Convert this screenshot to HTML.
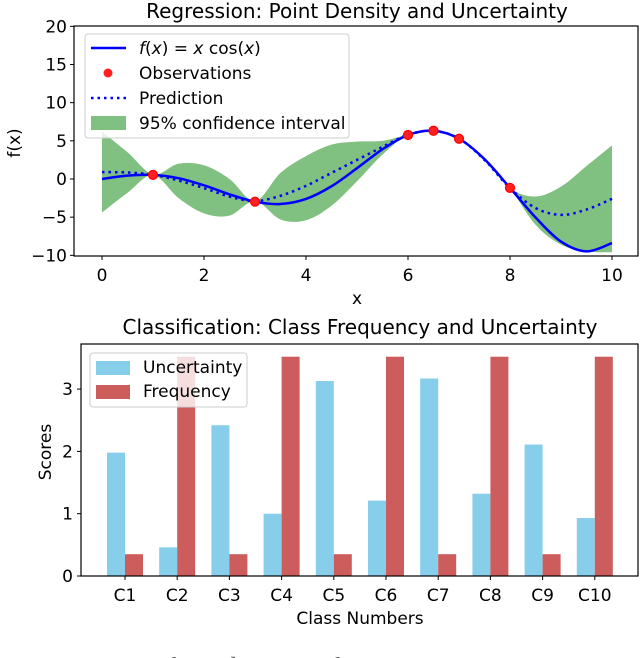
<!DOCTYPE html>
<html><head><meta charset="utf-8">
<style>
html,body{margin:0;padding:0;background:#fff;width:640px;height:658px;overflow:hidden}
svg{display:block;font-family:"DejaVu Sans","Liberation Sans",sans-serif}
</style></head>
<body>
<svg id="fig" width="640" height="658" viewBox="0 0 640 658">
  <g id="topchart"></g>
  <g id="botchart"></g>
  <text x="0" y="674" font-family="Liberation Serif,serif" font-size="24" fill="#555">Figure 1: Types of one-dimensional Gaussian</text>
</svg>
<script>
// ---- Regression data ----
const gridX = [0,0.5,1,1.5,2,2.5,3,3.5,4,4.5,5,5.5,6,6.5,7,7.5,8,8.5,9,9.5,10];
const trueY = [0,0.439,0.540,0.106,-0.832,-2.003,-2.970,-3.278,-2.615,-0.950,1.418,3.897,5.761,6.318,5.277,2.593,-1.164,-5.034,-8.200,-9.483,-8.391];
const predY = [0.9,0.85,0.55,-0.2,-1.2,-2.3,-2.9,-2.2,-0.9,0.8,2.5,4.2,5.8,6.3,5.3,2.5,-1.2,-3.8,-4.7,-4.0,-2.6];
const upperY = [6.2,3.5,0.6,2.0,1.8,0.0,-2.9,0.8,3.0,4.5,4.9,5.0,5.8,6.3,5.3,2.5,-1.2,-2.3,-1.0,1.7,4.4];
const lowerY = [-4.4,-1.8,0.5,-2.5,-4.5,-4.8,-2.9,-5.3,-5.4,-3.5,-0.3,3.2,5.8,6.3,5.3,2.5,-1.2,-6.0,-8.6,-9.5,-9.6];
const obsX = [1,3,6,6.5,7,8];
const obsY = [0.540,-2.970,5.761,6.318,5.277,-1.164];
const topXTicks = [0,2,4,6,8,10];
const topYTicks = [20,15,10,5,0,-5,-10];

// ---- Classification data ----
const classes = ["C1","C2","C3","C4","C5","C6","C7","C8","C9","C10"];
const uncertainty = [1.98,0.46,2.42,1.0,3.13,1.21,3.17,1.32,2.11,0.93];
const frequency = [0.35,3.52,0.35,3.52,0.35,3.52,0.35,3.52,0.35,3.52];
const botYTicks = [0,1,2,3];

const NS="http://www.w3.org/2000/svg";
function mk(parent,tag,attrs,text){const e=document.createElementNS(NS,tag);for(const k in attrs)e.setAttribute(k,attrs[k]);if(text!==undefined)e.textContent=text;parent.appendChild(e);return e;}

const tx=v=>102+v*51, ty=v=>179-v*7.633;
function smooth(xs,ys){let d="M"+tx(xs[0]).toFixed(2)+","+ty(ys[0]).toFixed(2);
 for(let i=0;i<xs.length-1;i++){const p0=[tx(xs[Math.max(i-1,0)]),ty(ys[Math.max(i-1,0)])],p1=[tx(xs[i]),ty(ys[i])],p2=[tx(xs[i+1]),ty(ys[i+1])],p3=[tx(xs[Math.min(i+2,xs.length-1)]),ty(ys[Math.min(i+2,xs.length-1)])];
 const c1=[p1[0]+(p2[0]-p0[0])/6,p1[1]+(p2[1]-p0[1])/6],c2=[p2[0]-(p3[0]-p1[0])/6,p2[1]-(p3[1]-p1[1])/6];
 d+=` C${c1[0].toFixed(2)},${c1[1].toFixed(2)} ${c2[0].toFixed(2)},${c2[1].toFixed(2)} ${p2[0].toFixed(2)},${p2[1].toFixed(2)}`;}return d;}
const topG=document.getElementById('topchart');
let bd=smooth(gridX,upperY);
const rx=gridX.slice().reverse(), rl=lowerY.slice().reverse();
bd+=" L"+smooth(rx,rl).slice(1)+" Z";
let el=mk(topG,'path',{d:bd,fill:'#80c080',stroke:'none'});


el=mk(topG,'path',{d:smooth(gridX,trueY),fill:'none',stroke:'#0000ff','stroke-width':2.5});


el=mk(topG,'path',{d:smooth(gridX,predY),fill:'none',stroke:'#0000ff','stroke-width':2.5,'stroke-dasharray':'2.5,4'});


obsX.forEach((x,i)=>{const c=mk(topG,'circle',{cx:tx(x),cy:ty(obsY[i]),r:4.5,fill:'#ff2020',stroke:'#ff0000','stroke-width':1.2});

});
mk(topG,'rect',{x:74,y:26,width:564,height:230,fill:'none',stroke:'#000','stroke-width':1.2,});
topXTicks.forEach(v=>{mk(topG,'line',{x1:tx(v),x2:tx(v),y1:256,y2:260,stroke:'#000'});
 const t=mk(topG,'text',{x:tx(v),y:281,'font-size':17,'text-anchor':'middle'},String(v));
 
 });
topYTicks.forEach(v=>{mk(topG,'line',{x1:70,x2:74,y1:ty(v),y2:ty(v),stroke:'#000'});
 const t=mk(topG,'text',{x:67,y:ty(v)+6,'font-size':17,'text-anchor':'end'},v<0?'\u2212'+(-v):String(v));
 
 });
mk(topG,'text',{x:357,y:304,'font-size':17,'text-anchor':'middle',},'x');
mk(topG,'text',{x:0,y:0,'font-size':17,'text-anchor':'middle',transform:'translate(20,143) rotate(-90)',},'f(x)');
mk(topG,'text',{x:357,y:18,'font-size':20,'text-anchor':'middle',},'Regression: Point Density and Uncertainty');
const lg=mk(topG,'g',{});
mk(lg,'rect',{x:85,y:34,width:264,height:104,rx:3,fill:'#fff','fill-opacity':0.8,stroke:'#ccc'});
mk(lg,'line',{x1:91,x2:126,y1:48,y2:48,stroke:'#0000ff','stroke-width':2.5});
mk(lg,'text',{x:139,y:54,'font-size':17},'').innerHTML='<tspan font-style="italic">f</tspan>(<tspan font-style="italic">x</tspan>) = <tspan font-style="italic">x</tspan> cos(<tspan font-style="italic">x</tspan>)';
mk(lg,'circle',{cx:108,cy:73,r:4.5,fill:'#ff2020'});
mk(lg,'text',{x:139,y:79,'font-size':17},'Observations');
mk(lg,'line',{x1:91,x2:126,y1:98,y2:98,stroke:'#0000ff','stroke-width':2.5,'stroke-dasharray':'2.5,4'});
mk(lg,'text',{x:139,y:104,'font-size':17},'Prediction');
mk(lg,'rect',{x:91,y:116,width:35,height:14,fill:'#80c080'});
mk(lg,'text',{x:139,y:129,'font-size':17},'95% confidence interval');

const botG=document.getElementById('botchart');
const bx=i=>125+i*52.2, by=v=>576-v*62.3, bw=18;
classes.forEach((c,i)=>{
 let r=mk(botG,'rect',{x:bx(i)-bw,y:by(uncertainty[i]),width:bw,height:576-by(uncertainty[i]),fill:'#87ceeb'});
 
 
 r=mk(botG,'rect',{x:bx(i),y:by(frequency[i]),width:bw,height:576-by(frequency[i]),fill:'#cd5c5c'});
 
 
 mk(botG,'line',{x1:bx(i),x2:bx(i),y1:576,y2:580,stroke:'#000'});
 const t=mk(botG,'text',{x:bx(i),y:601,'font-size':17,'text-anchor':'middle'},c);
 
 
});
mk(botG,'rect',{x:81,y:344,width:557,height:232,fill:'none',stroke:'#000','stroke-width':1.2,});
botYTicks.forEach(v=>{mk(botG,'line',{x1:77,x2:81,y1:by(v),y2:by(v),stroke:'#000'});
 const t=mk(botG,'text',{x:73,y:by(v)+6,'font-size':17,'text-anchor':'end'},String(v));
 
 });
mk(botG,'text',{x:360,y:624,'font-size':17,'text-anchor':'middle',},'Class Numbers');
mk(botG,'text',{x:0,y:0,'font-size':17,'text-anchor':'middle',transform:'translate(51,452) rotate(-90)',},'Scores');
mk(botG,'text',{x:360,y:334,'font-size':20,'text-anchor':'middle',},'Classification: Class Frequency and Uncertainty');
const lg2=mk(botG,'g',{});
mk(lg2,'rect',{x:90,y:353,width:157,height:54,rx:3,fill:'#fff','fill-opacity':0.8,stroke:'#ccc'});
mk(lg2,'rect',{x:96,y:361,width:34,height:14,fill:'#87ceeb'});
mk(lg2,'text',{x:143,y:373,'font-size':17},'Uncertainty');
mk(lg2,'rect',{x:96,y:385,width:34,height:14,fill:'#cd5c5c'});
mk(lg2,'text',{x:143,y:397,'font-size':17},'Frequency');
</script>
</body></html>
